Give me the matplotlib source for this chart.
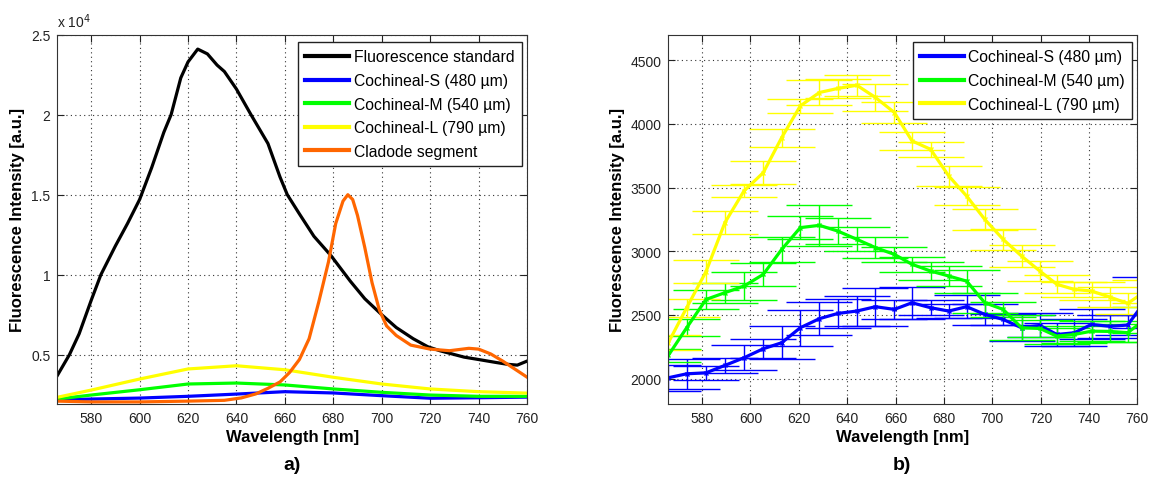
import numpy as np
import matplotlib
matplotlib.use('Agg')
import matplotlib.pyplot as plt
from matplotlib.ticker import FuncFormatter
from matplotlib.lines import Line2D

plt.rcParams['font.family'] = ['Liberation Sans', 'DejaVu Sans']
plt.rcParams['font.size'] = 10

# --- panel a: full spectra ---
wl_std = [566, 571, 575, 580, 584, 590, 595, 600, 605, 610, 613, 617, 620, 624, 628, 632, 635,
          640, 646, 653, 658, 661, 666, 672, 679, 687, 693, 700, 706, 713, 719, 724, 734, 740,
          747, 752, 756, 760]
fl_std = [3700, 5000, 6300, 8400, 10000, 11800, 13200, 14700, 16700, 18900, 20000, 22300, 23300,
          24100, 23800, 23100, 22700, 21600, 20000, 18200, 16100, 15000, 13800, 12400, 11200, 9600,
          8500, 7500, 6700, 6000, 5500, 5250, 4850, 4700, 4520, 4400, 4350, 4600]

wl_clad = [566, 580, 600, 620, 635, 642, 648, 653, 658, 662, 666, 670, 674, 678, 681, 684, 686,
           688, 690, 693, 696, 699, 702, 706, 712, 720, 728, 736, 740, 745, 750, 755, 760]
fl_clad = [2100, 2050, 2050, 2100, 2150, 2300, 2550, 2900, 3300, 3900, 4700, 6000, 8300, 10800,
           13200, 14600, 15000, 14700, 13700, 11700, 9500, 7800, 6800, 6200, 5600, 5350, 5250,
           5400, 5350, 5050, 4600, 4100, 3600]

wl_coch = [566, 580, 600, 620, 640, 660, 680, 700, 720, 740, 760]
fl_s = [2170, 2230, 2290, 2400, 2540, 2690, 2610, 2440, 2280, 2310, 2350]
fl_m = [2230, 2480, 2810, 3170, 3230, 3110, 2860, 2650, 2480, 2400, 2400]
fl_l = [2340, 2790, 3480, 4110, 4310, 4060, 3590, 3170, 2860, 2690, 2600]

# --- panel b: averaged cochineal spectra with error bars ---
wl_avg = [566.0, 573.6, 581.6, 589.4, 597.3, 605.3, 612.9, 620.6, 628.5, 636.1, 644.0, 651.7,
          659.5, 666.8, 674.5, 682.0, 689.4, 696.9, 704.5, 712.1, 719.7, 726.7, 733.9, 741.1,
          748.6, 756.0, 763.0]
avg_s = [2006, 2037, 2045, 2103, 2163, 2234, 2281, 2399, 2470, 2511, 2530, 2564, 2543, 2595,
         2556, 2530, 2564, 2504, 2464, 2399, 2417, 2346, 2359, 2425, 2410, 2420, 2600]
err_s = [100, 118, 55, 59, 98, 73, 131, 140, 131, 111, 118, 150, 76, 126, 59, 56, 90, 85, 45,
         102, 94, 88, 105, 118, 90, 80, 200]
avg_m = [2181, 2399, 2621, 2674, 2726, 2818, 3014, 3185, 3203, 3158, 3093, 3028, 2975, 2897,
         2844, 2805, 2765, 2595, 2543, 2399, 2393, 2333, 2346, 2372, 2370, 2360, 2460]
err_m = [50, 68, 72, 79, 110, 90, 100, 90, 163, 100, 95, 80, 60, 60, 70, 80, 90, 80, 60, 100,
         70, 60, 70, 80, 80, 70, 100]
avg_l = [2281, 2556, 2840, 3224, 3473, 3617, 3892, 4141, 4246, 4278, 4303, 4207, 4089, 3866,
         3800, 3591, 3433, 3250, 3093, 2962, 2844, 2740, 2700, 2687, 2640, 2590, 2680]
err_l = [60, 70, 90, 89, 50, 89, 70, 55, 100, 73, 81, 105, 80, 70, 60, 80, 70, 80, 80, 90, 80,
         70, 60, 70, 80, 80, 90]

labels_coch = ['Cochineal-S (480 \u00b5m)', 'Cochineal-M (540 \u00b5m)', 'Cochineal-L (790 \u00b5m)']
c_blue, c_green, c_yellow, c_orange = '#0000ff', '#00ff00', '#ffff00', '#ff6600'

fig = plt.figure(figsize=(11.51, 4.81), dpi=100)
W, H = 1151.0, 481.0
ax1 = fig.add_axes([57.3 / W, 76 / H, 469.7 / W, 369.3 / H])
ax2 = fig.add_axes([668.3 / W, 76 / H, 469 / W, 369.3 / H])

# panel a
ax1.plot(wl_std, fl_std, color='k', lw=2.3, label='Fluorescence standard')
ax1.plot(wl_coch, fl_s, color=c_blue, lw=2.3, label=labels_coch[0])
ax1.plot(wl_coch, fl_m, color=c_green, lw=2.3, label=labels_coch[1])
ax1.plot(wl_coch, fl_l, color=c_yellow, lw=2.3, label=labels_coch[2])
ax1.plot(wl_clad, fl_clad, color=c_orange, lw=2.3, label='Cladode segment')
ax1.set_ylim(1920, 25000)
ax1.set_yticks([5000, 10000, 15000, 20000, 25000])
ax1.yaxis.set_major_formatter(FuncFormatter(lambda v, p: '%g' % (v / 1e4)))
ax1.text(0, 1.012, 'x 10$^4$', transform=ax1.transAxes, fontsize=10, ha='left', va='bottom',
         color='#222222')

# panel b
for y, e, c, lab in [(avg_s, err_s, c_blue, labels_coch[0]),
                     (avg_m, err_m, c_green, labels_coch[1]),
                     (avg_l, err_l, c_yellow, labels_coch[2])]:
    ax2.errorbar(wl_avg, y, yerr=e, color=c, lw=2.3, elinewidth=1, capsize=24, capthick=1,
                 marker='x', ms=3, label=lab)
ax2.set_ylim(1800, 4700)
ax2.set_yticks([2000, 2500, 3000, 3500, 4000, 4500])

for ax in (ax1, ax2):
    ax.set_xlim(566, 760)
    ax.set_xticks(np.arange(580, 761, 20))
    ax.grid(True, linestyle=(0, (1, 3)), color='#333333', lw=0.8)
    ax.tick_params(direction='in', top=True, right=True, length=5, labelsize=10,
                   colors='#222222', pad=5)
    for s in ax.spines.values():
        s.set_color('#333333')
    ax.set_xlabel('Wavelength [nm]', fontweight='bold', fontsize=12, labelpad=3)
    ax.set_ylabel('Fluorescence Intensity [a.u.]', fontweight='bold', fontsize=12)

leg_opts = dict(loc='upper right', bbox_to_anchor=(0.9887, 0.9794), borderaxespad=0,
                fancybox=False, framealpha=1, edgecolor='#222222', handlelength=2.8,
                handletextpad=0.3, labelspacing=0.55, fontsize=11.3, borderpad=0.45)
leg1 = ax1.legend(**leg_opts)
h, l = ax2.get_legend_handles_labels()
h2 = [Line2D([], [], color=c, lw=3) for c in (c_blue, c_green, c_yellow)]
leg2 = ax2.legend(h2, l, **leg_opts)
for leg in (leg1, leg2):
    leg.get_frame().set_linewidth(1)
    for ln in leg.get_lines():
        ln.set_linewidth(3)

fig.text(292 / W, 1 - 466 / H, 'a)', ha='center', va='center', fontsize=14, fontweight='bold')
fig.text(902 / W, 1 - 466 / H, 'b)', ha='center', va='center', fontsize=14, fontweight='bold')

fig.savefig('out.png', dpi=100)
